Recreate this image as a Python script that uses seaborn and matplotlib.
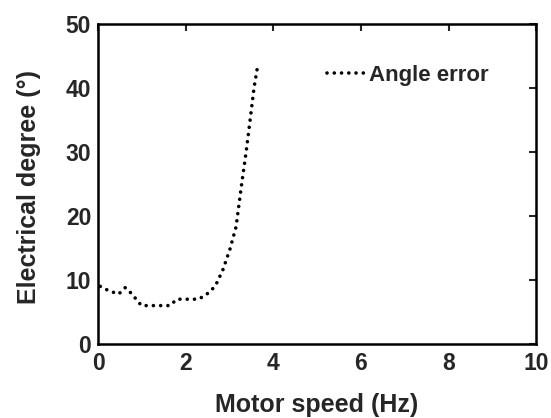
import matplotlib
matplotlib.use("Agg")
import matplotlib.pyplot as plt
import seaborn as sns
import pandas as pd

speed_hz = [0.05, 0.25, 0.47, 0.62, 0.76, 0.99, 1.2, 1.4, 1.64, 1.80, 2.0, 2.28,
            2.43, 2.59, 2.70, 2.85, 3.01, 3.15, 3.28, 3.38, 3.48, 3.56, 3.64]
angle_error = [9.0, 8.3, 7.8, 8.8, 7.9, 6.0, 6.0, 6.0, 6.0, 7.0, 7.0, 7.0,
               7.5, 8.4, 9.4, 11.6, 14.8, 18.3, 25.1, 30.0, 35.5, 40.0, 43.3]
series_name = "Angle error"

df = pd.DataFrame({"speed": speed_hz, "error": angle_error, "series": series_name})

sns.set_theme(style="white")
plt.rcParams['font.family'] = ['Liberation Sans', 'DejaVu Sans']
plt.rcParams['font.weight'] = 'bold'

fig = plt.figure(figsize=(5.51, 4.18), dpi=100)
ax = fig.add_axes([0.178, 0.177, 0.795, 0.766])

DOTS = (0, (0.01, 2.0))
LW = 2.6
sns.lineplot(data=df, x="speed", y="error", hue="series", palette=["black"],
             linewidth=LW, ax=ax, legend=True)
for ln in ax.get_lines():
    ln.set_linestyle(DOTS)
    ln.set_dash_capstyle('round')

ax.set_xlim(0, 10)
ax.set_ylim(0, 50)
ax.set_xticks([0, 2, 4, 6, 8, 10])
ax.set_yticks([0, 10, 20, 30, 40, 50])
ax.set_xlabel("Motor speed (Hz)", fontsize=18, fontweight='bold', labelpad=13)
ax.set_ylabel("Electrical degree (°)", fontsize=18, fontweight='bold')
ax.yaxis.set_label_coords(-0.13, 0.49)
ax.tick_params(axis='both', direction='in', length=5, width=1.5, labelsize=16.5,
               top=True, right=True, pad=5)
ax.tick_params(axis='x', pad=6)
for lbl in ax.get_xticklabels() + ax.get_yticklabels():
    lbl.set_fontweight('bold')
for s in ax.spines.values():
    s.set_linewidth(1.8)
    s.set_color('black')

leg = ax.legend(loc='center left', bbox_to_anchor=(0.497, 0.839), frameon=False,
                borderpad=0, handlelength=1.9, handletextpad=0.0,
                prop={'weight': 'bold', 'size': 16})
for h in leg.get_lines():
    h.set_linestyle(DOTS)
    h.set_dash_capstyle('round')
    h.set_linewidth(LW)

fig.savefig("out.png", dpi=100)
